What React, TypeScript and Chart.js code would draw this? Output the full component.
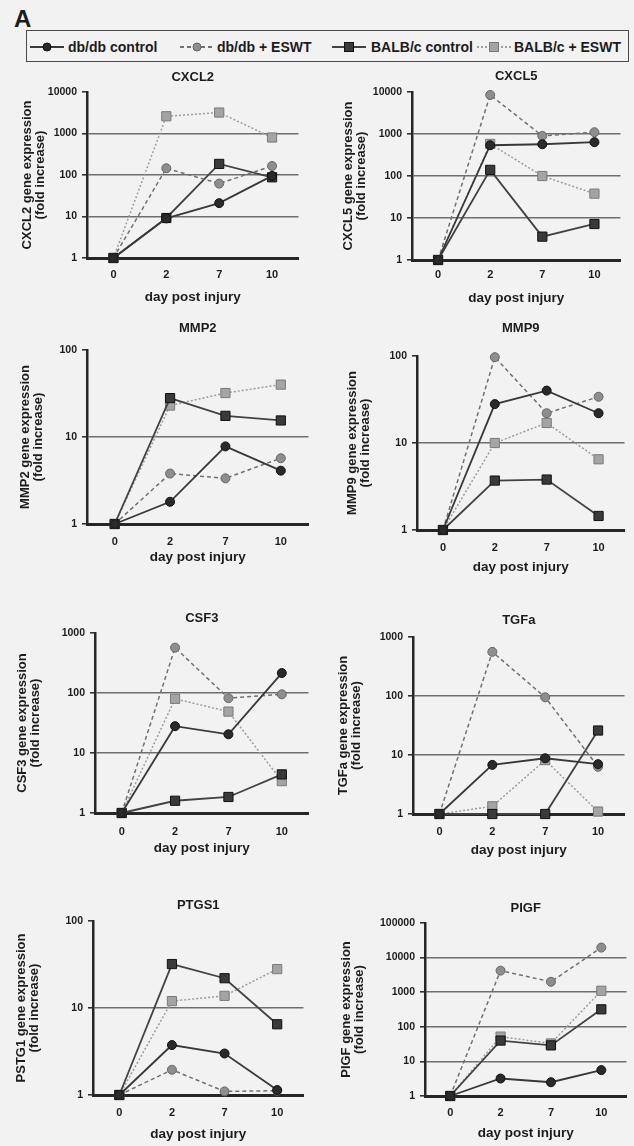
import React, { useEffect, useRef } from 'react';
import { Chart, registerables } from 'chart.js';

Chart.register(...registerables);

// ---------- data ----------
const days = ['0', '2', '7', '10'];
const seriesNames = ['db/db control', 'db/db + ESWT', 'BALB/c control', 'BALB/c + ESWT'];
const xAxisTitle = 'day post injury';
const yAxisSubTitle = '(fold increase)';

const ticksTo100 = [1, 10, 100];
const ticksTo1000 = [1, 10, 100, 1000];
const ticksTo10000 = [1, 10, 100, 1000, 10000];
const ticksTo100000 = [1, 10, 100, 1000, 10000, 100000];

const cxcl2DbCtrl = [1, 9, 21, 95];
const cxcl2DbEswt = [1, 145, 62, 165];
const cxcl2BalbCtrl = [1, 9.2, 185, 88];
const cxcl2BalbEswt = [1, 2600, 3200, 800];

const cxcl5DbCtrl = [1, 540, 570, 640];
const cxcl5DbEswt = [1, 8500, 900, 1100];
const cxcl5BalbCtrl = [1, 140, 3.6, 7.2];
const cxcl5BalbEswt = [1, 580, 100, 38];

const mmp2DbCtrl = [1, 1.8, 7.8, 4.1];
const mmp2DbEswt = [1, 3.8, 3.35, 5.7];
const mmp2BalbCtrl = [1, 28, 17.5, 15.5];
const mmp2BalbEswt = [1, 23, 32, 40];

const mmp9DbCtrl = [1, 28, 40, 22];
const mmp9DbEswt = [1, 97, 22, 34];
const mmp9BalbCtrl = [1, 3.7, 3.8, 1.45];
const mmp9BalbEswt = [1, 10, 17, 6.5];

const csf3DbCtrl = [1, 28, 20.5, 215];
const csf3DbEswt = [1, 570, 82, 95];
const csf3BalbCtrl = [1, 1.6, 1.85, 4.4];
const csf3BalbEswt = [1, 80, 49, 3.4];

const tgfaDbCtrl = [1, 6.8, 8.8, 7];
const tgfaDbEswt = [1, 560, 95, 6.3];
const tgfaBalbCtrl = [1, 1, 1, 26];
const tgfaBalbEswt = [1, 1.35, 8.2, 1.1];

const ptgs1DbCtrl = [1, 3.75, 3.0, 1.14];
const ptgs1DbEswt = [1, 1.95, 1.1, 1.12];
const ptgs1BalbCtrl = [1, 32, 22, 6.5];
const ptgs1BalbEswt = [1, 12, 13.8, 28];

const pigfDbCtrl = [1, 3.2, 2.5, 5.6];
const pigfDbEswt = [1, 4200, 2000, 19500];
const pigfBalbCtrl = [1, 40, 29, 320];
const pigfBalbEswt = [1, 52, 33, 1100];

const panels = [
  { gene: 'CXCL2', yLabel: 'CXCL2 gene expression', ticks: ticksTo10000, series: [cxcl2DbCtrl, cxcl2DbEswt, cxcl2BalbCtrl, cxcl2BalbEswt] },
  { gene: 'CXCL5', yLabel: 'CXCL5 gene expression', ticks: ticksTo10000, series: [cxcl5DbCtrl, cxcl5DbEswt, cxcl5BalbCtrl, cxcl5BalbEswt] },
  { gene: 'MMP2', yLabel: 'MMP2 gene expression', ticks: ticksTo100, series: [mmp2DbCtrl, mmp2DbEswt, mmp2BalbCtrl, mmp2BalbEswt] },
  { gene: 'MMP9', yLabel: 'MMP9 gene expression', ticks: ticksTo100, series: [mmp9DbCtrl, mmp9DbEswt, mmp9BalbCtrl, mmp9BalbEswt] },
  { gene: 'CSF3', yLabel: 'CSF3 gene expression', ticks: ticksTo1000, series: [csf3DbCtrl, csf3DbEswt, csf3BalbCtrl, csf3BalbEswt] },
  { gene: 'TGFa', yLabel: 'TGFa gene expression', ticks: ticksTo1000, series: [tgfaDbCtrl, tgfaDbEswt, tgfaBalbCtrl, tgfaBalbEswt] },
  { gene: 'PTGS1', yLabel: 'PSTG1 gene expression', ticks: ticksTo100, series: [ptgs1DbCtrl, ptgs1DbEswt, ptgs1BalbCtrl, ptgs1BalbEswt] },
  { gene: 'PIGF', yLabel: 'PIGF gene expression', ticks: ticksTo100000, series: [pigfDbCtrl, pigfDbEswt, pigfBalbCtrl, pigfBalbEswt] },
];

// ---------- layout & styles ----------
const panelBoxes = [
  { left: 0, px0: 87, py0: 92, px1: 302, py1: 258, titleY: 77, xLabelY: 275, xTitleY: 297, yTitleX: 27 },
  { left: 315, px0: 412, py0: 92, px1: 624, py1: 260, titleY: 76, xLabelY: 275, xTitleY: 298, yTitleX: 348 },
  { left: 0, px0: 87, py0: 350, px1: 312, py1: 524, titleY: 328, xLabelY: 542, xTitleY: 557, yTitleX: 25 },
  { left: 315, px0: 417, py0: 356, px1: 628, py1: 530, titleY: 328, xLabelY: 548, xTitleY: 567, yTitleX: 352 },
  { left: 0, px0: 95, py0: 633, px1: 312, py1: 813, titleY: 618, xLabelY: 832, xTitleY: 848, yTitleX: 22 },
  { left: 315, px0: 413, py0: 637, px1: 628, py1: 814, titleY: 620, xLabelY: 832, xTitleY: 850, yTitleX: 343 },
  { left: 0, px0: 93, py0: 921, px1: 307, py1: 1095, titleY: 905, xLabelY: 1113, xTitleY: 1134, yTitleX: 21 },
  { left: 315, px0: 425, py0: 923, px1: 634, py1: 1096, titleY: 908, xLabelY: 1113, xTitleY: 1133, yTitleX: 346 },
];

const seriesStyles = [
  { pointStyle: 'circle', radius: 4.5, bg: '#2a2a2a', border: '#111111', line: '#383838', width: 1.8, dash: [] as number[] },
  { pointStyle: 'circle', radius: 4.5, bg: '#8e8e8e', border: '#666666', line: '#707070', width: 1.5, dash: [4, 3] },
  { pointStyle: 'rect', radius: 6.5, bg: '#3a3a3a', border: '#111111', line: '#424242', width: 1.8, dash: [] as number[] },
  { pointStyle: 'rect', radius: 6.5, bg: '#a4a4a4', border: '#7a7a7a', line: '#9c9c9c', width: 1.5, dash: [2, 2] },
];

const FONT = "'Liberation Sans', Arial, Helvetica, sans-serif";
const TEXT = '#1c1c1c';
const AXIS = '#262626';
const GRID = '#6e6e6e';
const BG = '#f2f2f2';

function Panel({ panel, box }: { panel: typeof panels[number]; box: typeof panelBoxes[number] }) {
  const ref = useRef<HTMLCanvasElement | null>(null);
  const top = box.titleY - 15;
  const height = box.xTitleY + 10 - top;
  const padRight = Math.min(4, 634 - box.px1);
  const width = box.px1 + padRight - box.left;

  useEffect(() => {
    if (!ref.current) return;
    const maxTick = panel.ticks[panel.ticks.length - 1];
    const chart = new Chart(ref.current, {
      type: 'line',
      data: {
        labels: days,
        datasets: panel.series.map((vals, i) => {
          const s = seriesStyles[i];
          return {
            label: seriesNames[i],
            data: vals,
            borderColor: s.line,
            borderWidth: s.width,
            borderDash: s.dash,
            backgroundColor: s.bg,
            pointStyle: s.pointStyle as any,
            pointRadius: s.radius,
            pointBackgroundColor: s.bg,
            pointBorderColor: s.border,
            pointBorderWidth: 1,
            tension: 0,
            fill: false,
            clip: false as any,
          };
        }),
      },
      options: {
        responsive: false,
        animation: false,
        events: [],
        layout: { padding: { top: 0, left: 0, bottom: 0, right: padRight } },
        plugins: {
          legend: { display: false },
          tooltip: { enabled: false },
          title: {
            display: true,
            text: panel.gene,
            fullSize: false,
            color: TEXT,
            font: { family: FONT, size: 13, weight: 'bold', lineHeight: 1.2 },
            padding: { top: 7.2, bottom: box.py0 - box.titleY - 7.8 },
          },
        },
        scales: {
          x: {
            type: 'category',
            offset: true,
            grid: { display: false, drawTicks: false },
            border: { display: true, color: AXIS, width: 3 },
            ticks: {
              color: TEXT,
              font: { family: FONT, size: 11, weight: 'bold', lineHeight: 1.2 },
              padding: box.xLabelY - box.py1 - 6.6,
              maxRotation: 0,
              autoSkip: false,
            },
            title: {
              display: true,
              text: xAxisTitle,
              color: TEXT,
              font: { family: FONT, size: 13.5, weight: 'bold', lineHeight: 1.2 },
              padding: { top: 0, bottom: 1.9 },
            },
            afterFit: (s: any) => {
              s.height = box.xTitleY + 10 - box.py1;
            },
          },
          y: {
            type: 'logarithmic',
            min: 1,
            max: maxTick,
            afterBuildTicks: (s: any) => {
              s.ticks = panel.ticks.map((v) => ({ value: v }));
            },
            afterFit: (s: any) => {
              s.width = box.px0 - box.left;
            },
            grid: {
              color: (c: any) => (c.tick && c.tick.value === maxTick ? 'rgba(0,0,0,0)' : GRID),
              lineWidth: 1.6,
              drawTicks: true,
              tickLength: 5,
              tickColor: AXIS,
              tickWidth: 1.5,
            },
            border: { display: true, color: AXIS, width: 2.5 },
            ticks: {
              color: TEXT,
              font: { family: FONT, size: 10.5, weight: 'bold' },
              padding: 5,
              autoSkip: false,
              callback: (v: any) => String(v),
            },
            title: {
              display: true,
              text: [panel.yLabel, yAxisSubTitle],
              color: TEXT,
              font: { family: FONT, size: 13, weight: 'bold', lineHeight: 1 },
              padding: { top: box.yTitleX - box.left - 6.5, bottom: 0 },
            },
          },
        },
      } as any,
    });
    return () => chart.destroy();
  }, [panel, box]);

  return (
    <canvas
      ref={ref}
      width={width}
      height={height}
      style={{ position: 'absolute', left: box.left, top, width, height }}
    />
  );
}

const legendMarkerX = [30, 180, 332, 477];
const legendTextX = [68, 217, 371, 514];

function LegendMarker({ i }: { i: number }) {
  const s = seriesStyles[i];
  return (
    <svg width={34} height={14} style={{ position: 'absolute', left: legendMarkerX[i], top: 40 }}>
      <line x1={0} y1={7} x2={34} y2={7} stroke={s.line} strokeWidth={2} strokeDasharray={s.dash.length ? s.dash.join(' ') : undefined} />
      {s.pointStyle === 'circle' ? (
        <circle cx={17} cy={7} r={4} fill={s.bg} stroke={s.border} strokeWidth={1} />
      ) : (
        <rect x={12.5} y={2.5} width={9} height={9} fill={s.bg} stroke={s.border} strokeWidth={1} />
      )}
    </svg>
  );
}

export default function App() {
  return (
    <div style={{ position: 'absolute', left: 0, top: 0, width: 634, height: 1146, background: BG, overflow: 'hidden', fontFamily: FONT }}>
      <div style={{ position: 'absolute', left: 14, top: 7, fontSize: 24, lineHeight: '24px', fontWeight: 'bold', color: TEXT }}>A</div>
      <div style={{ position: 'absolute', left: 26, top: 30, width: 603, height: 32, border: '1.5px solid #4a4a4a', boxSizing: 'border-box' }} />
      {seriesNames.map((name, i) => (
        <React.Fragment key={name}>
          <LegendMarker i={i} />
          <div style={{ position: 'absolute', left: legendTextX[i], top: 40, fontSize: 14, lineHeight: '14px', fontWeight: 'bold', color: TEXT, whiteSpace: 'nowrap' }}>{name}</div>
        </React.Fragment>
      ))}
      {panels.map((p, i) => (
        <Panel key={p.gene} panel={p} box={panelBoxes[i]} />
      ))}
    </div>
  );
}
